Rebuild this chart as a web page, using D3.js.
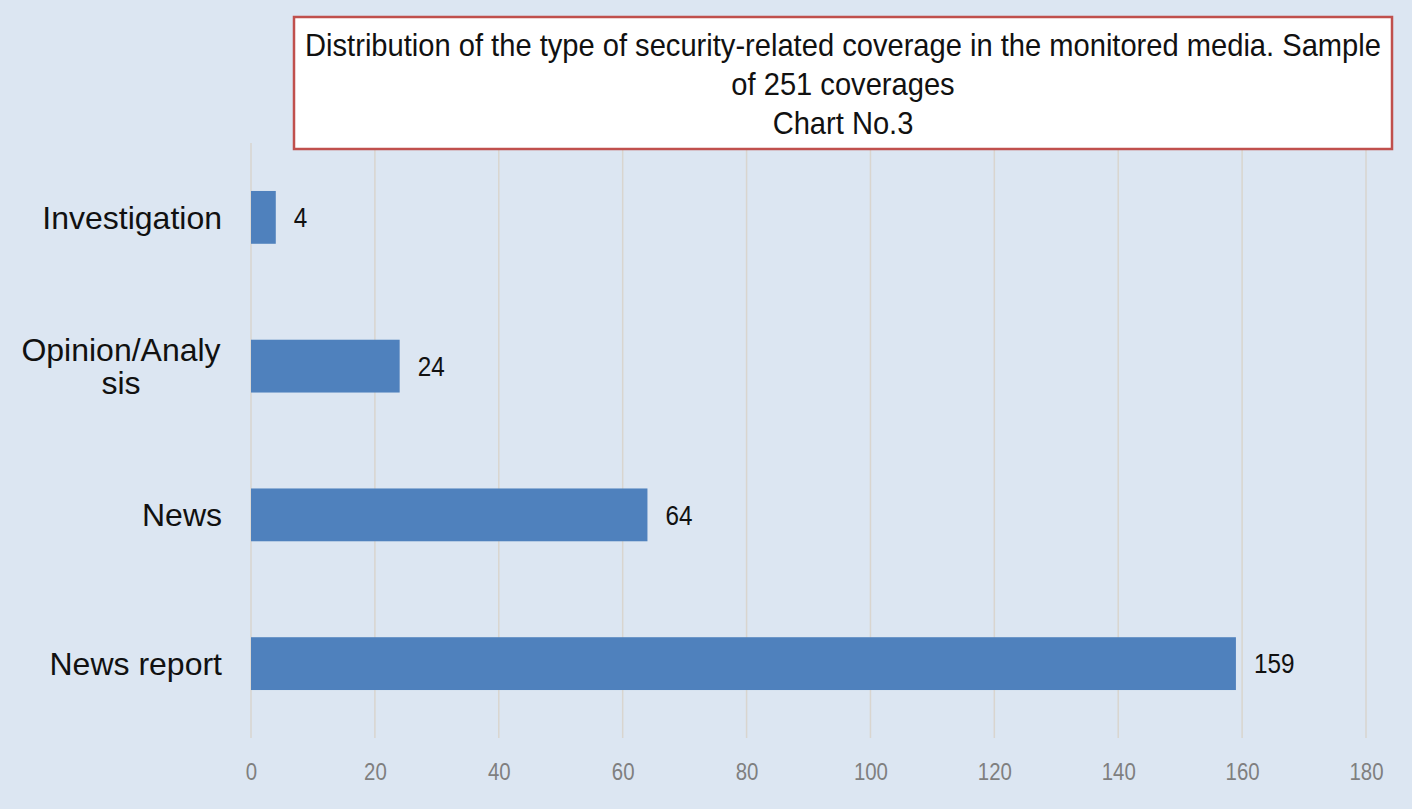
<!DOCTYPE html>
<html><head><meta charset="utf-8">
<script src="https://cdn.jsdelivr.net/npm/d3@7"></script>
<style>
html,body{margin:0;padding:0;background:#dce6f2;}
svg{display:block;}
</style></head>
<body>
<svg id="chart" width="1412" height="809"></svg>
<script>
const categories = ["Investigation", "Opinion/Analysis", "News", "News report"];
const categoryLines = [["Investigation"], ["Opinion/Analy", "sis"], ["News"], ["News report"]];
const values = [4, 24, 64, 159];
const tickValues = [0, 20, 40, 60, 80, 100, 120, 140, 160, 180];
const titleLines = ["Distribution of the type of security-related coverage in the monitored media. Sample", "of 251 coverages", "Chart No.3"];

const FONT = "'Liberation Sans',Arial,sans-serif";
const svg = d3.select("#chart");
svg.append("rect").attr("width",1412).attr("height",809).attr("fill","#dce6f2");

const x = d3.scaleLinear().domain([0,180]).range([251,1366]);
const y = d3.scaleBand().domain(categories).range([143,738]).paddingInner(0.645).paddingOuter(0.3225);

// gridlines
svg.append("g").selectAll("line").data(tickValues).join("line")
  .attr("x1",d=>x(d)).attr("x2",d=>x(d)).attr("y1",143).attr("y2",738)
  .attr("stroke","#d9d5cf").attr("stroke-width",1.5);

// bars
svg.append("g").selectAll("rect").data(values).join("rect")
  .attr("x",x(0)).attr("y",(d,i)=>y(categories[i]))
  .attr("width",d=>x(d)-x(0)).attr("height",y.bandwidth())
  .attr("fill","#4f81bd");

// value labels (condensed)
svg.append("g").selectAll("text").data(values).join("text")
  .attr("transform",(d,i)=>`translate(${x(d)+18},${y(categories[i])+y.bandwidth()/2}) scale(0.9,1)`)
  .attr("dy","0.36em")
  .attr("font-family",FONT)
  .attr("font-size",27).attr("fill","#111")
  .text(d=>d);

// category labels
svg.append("g").selectAll("text").data(categories).join("text")
  .attr("font-family",FONT)
  .attr("font-size",32).attr("fill","#111")
  .each(function(d,i){
    const lines = categoryLines[i];
    const cy = y(d)+y.bandwidth()/2;
    const lh = 33;
    const t = d3.select(this);
    const multi = lines.length>1;
    t.attr("text-anchor", multi ? "middle" : "end");
    lines.forEach((ln,j)=>{
      t.append("tspan").attr("x", multi ? 121 : 222)
        .attr("y", cy + (j-(lines.length-1)/2)*lh).attr("dy","0.36em").text(ln);
    });
  });

// x axis
const xAxis = d3.axisBottom(x).tickValues(tickValues).tickSize(0).tickPadding(0);
const ga = svg.append("g").attr("transform","translate(0,771)").call(xAxis);
ga.select(".domain").remove();
ga.selectAll("text").attr("dy","0.36em").attr("y",0)
  .attr("transform","scale(0.85,1)")
  .attr("font-family",FONT)
  .attr("font-size",24).attr("fill","#7f7f7f");

// title box
svg.append("rect").attr("x",294).attr("y",17).attr("width",1098).attr("height",132)
  .attr("fill","#ffffff").attr("stroke","#c0504d").attr("stroke-width",2.5);
svg.append("g").selectAll("text").data(titleLines).join("text")
  .attr("transform",(d,i)=>`translate(843,${44+i*39}) scale(0.91,1)`)
  .attr("dy","0.36em")
  .attr("text-anchor","middle")
  .attr("font-family",FONT)
  .attr("font-size",32).attr("fill","#111")
  .text(d=>d);
</script>
</body></html>
